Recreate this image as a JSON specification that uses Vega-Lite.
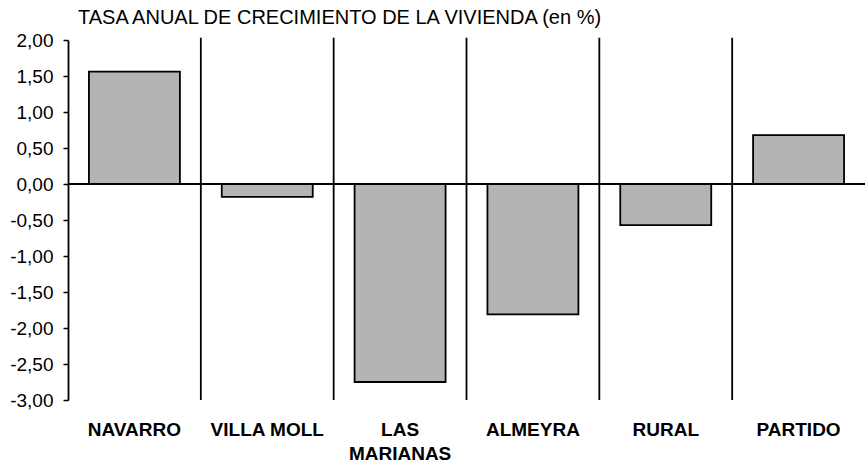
{
  "$schema": "https://vega.github.io/schema/vega-lite/v6.json",
  "width": 797,
  "height": 360,
  "autosize": {"type": "none"},
  "padding": {"left": 68, "top": 40, "right": 0, "bottom": 65},
  "background": "white",
  "config": {
    "view": {"stroke": null},
    "font": "Liberation Sans",
    "axisY": {
      "title": null,
      "grid": false,
      "labelOverlap": false,
      "domainColor": "black",
      "domainWidth": 1.8,
      "tickColor": "black",
      "tickSize": 5,
      "tickWidth": 1.5,
      "labelPadding": 10,
      "labelFontSize": 19,
      "labelColor": "black",
      "labelFont": "Liberation Sans"
    }
  },
  "title": {
    "text": "TASA ANUAL DE CRECIMIENTO DE LA VIVIENDA (en %)",
    "anchor": "start",
    "frame": "group",
    "dx": 10,
    "offset": 3,
    "fontSize": 20,
    "fontWeight": "normal",
    "color": "black",
    "font": "Liberation Sans"
  },
  "data": {
    "values": [
      {"zona": "NAVARRO", "tasa": 1.56},
      {"zona": "VILLA MOLL", "tasa": -0.18},
      {"zona": "LAS MARIANAS", "tasa": -2.75},
      {"zona": "ALMEYRA", "tasa": -1.81},
      {"zona": "RURAL", "tasa": -0.57},
      {"zona": "PARTIDO", "tasa": 0.68}
    ]
  },
  "layer": [
    {
      "mark": {"type": "bar", "width": {"band": 0.685}, "fill": "#b4b4b6", "stroke": "black", "strokeWidth": 1.8},
      "encoding": {
        "x": {
          "field": "zona",
          "type": "nominal",
          "sort": null,
          "scale": {"paddingInner": 0, "paddingOuter": 0},
          "axis": {
            "title": null,
            "domain": false,
            "ticks": false,
            "labelAngle": 0,
            "labelPadding": 20,
            "labelFontSize": 19,
            "labelFontWeight": "bold",
            "labelColor": "black",
            "labelFont": "Liberation Sans",
            "labelLineHeight": 24,
            "labelOverlap": false,
            "labelExpr": "datum.label == 'LAS MARIANAS' ? ['LAS', 'MARIANAS'] : datum.label"
          }
        },
        "y": {
          "field": "tasa",
          "type": "quantitative",
          "scale": {"domain": [-3, 2], "nice": false},
          "axis": {
            "values": [-3, -2.5, -2, -1.5, -1, -0.5, 0, 0.5, 1, 1.5, 2],
            "labelExpr": "(datum.value < 0 ? '-' : '') + replace(format(abs(datum.value), '.2f'), '.', ',')"
          }
        }
      }
    },
    {
      "transform": [{"filter": "datum.zona != 'NAVARRO'"}],
      "mark": {"type": "rule", "color": "black", "strokeWidth": 1.8},
      "encoding": {
        "x": {"field": "zona", "type": "nominal", "sort": null, "bandPosition": 0},
        "y": {
          "datum": 2.03,
          "type": "quantitative",
          "axis": {
            "values": [-3, -2.5, -2, -1.5, -1, -0.5, 0, 0.5, 1, 1.5, 2],
            "labelExpr": "(datum.value < 0 ? '-' : '') + replace(format(abs(datum.value), '.2f'), '.', ',')"
          }
        },
        "y2": {"datum": -3}
      }
    },
    {
      "mark": {"type": "rule", "color": "black", "strokeWidth": 1.8},
      "encoding": {
        "y": {
          "datum": 0,
          "type": "quantitative",
          "axis": {
            "values": [-3, -2.5, -2, -1.5, -1, -0.5, 0, 0.5, 1, 1.5, 2],
            "labelExpr": "(datum.value < 0 ? '-' : '') + replace(format(abs(datum.value), '.2f'), '.', ',')"
          }
        }
      }
    }
  ]
}
